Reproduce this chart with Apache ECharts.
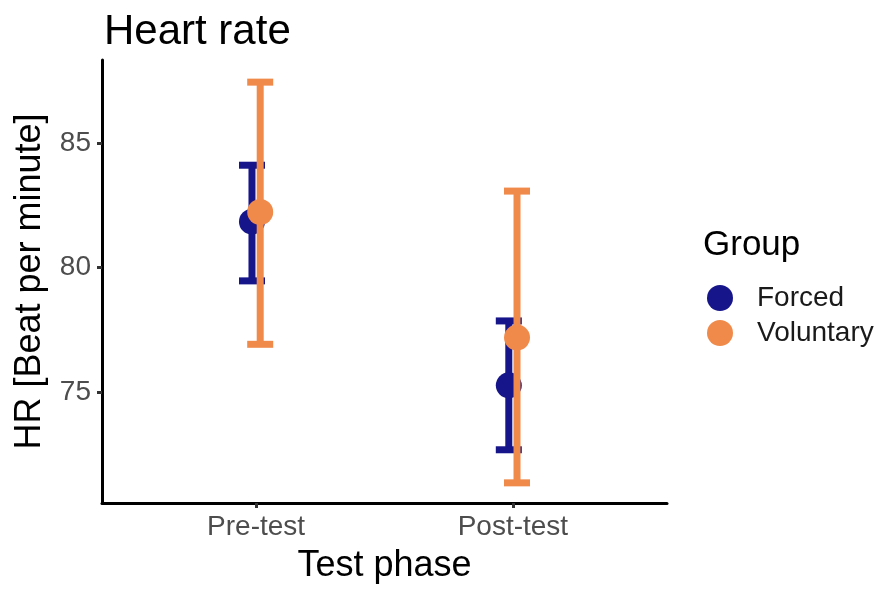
<!DOCTYPE html>
<html>
<head>
<meta charset="utf-8">
<title>Heart rate</title>
<script src="https://cdn.jsdelivr.net/npm/echarts@6/dist/echarts.min.js"></script>
<style>
  html, body { margin: 0; padding: 0; background: #ffffff; }
  #chart { width: 880px; height: 589px; }
</style>
</head>
<body>
<div id="chart"></div>
<script>
// Test phases on the x axis
const phases = ['Pre-test', 'Post-test'];
// Group names (legend order)
const groups = ['Forced', 'Voluntary'];
// Mean heart rate and error bar limits per phase
const forcedMean = [81.85, 75.27];
const forcedLow = [79.47, 72.68];
const forcedHigh = [84.12, 77.86];
const voluntaryMean = [82.24, 77.19];
const voluntaryLow = [76.92, 71.35];
const voluntaryHigh = [87.46, 83.08];
// Y axis tick values
const yTicks = [75, 80, 85];

const FONT = '"Liberation Sans", Arial, Helvetica, sans-serif';
const COLORS = { Forced: '#16158a', Voluntary: '#f08a4b' };
const DODGE = 0.016;   // horizontal offset of the two groups within a phase
const CAP = 13;        // half width of error bar caps (px)
const LINE_W = 7;
const DOT_R = 13;

function buildData(mean, low, high, offset) {
  return phases.map((p, i) => [i + 1 + offset, mean[i], low[i], high[i]]);
}

function errorBarSeries(name, mean, low, high, offset) {
  const color = COLORS[name];
  return {
    name: name,
    type: 'custom',
    clip: false,
    itemStyle: { color: color },
    encode: { x: 0, y: 1 },
    data: buildData(mean, low, high, offset),
    renderItem: function (params, api) {
      const x = api.value(0);
      const pMean = api.coord([x, api.value(1)]);
      const pLo = api.coord([x, api.value(2)]);
      const pHi = api.coord([x, api.value(3)]);
      const st = { stroke: color, lineWidth: LINE_W, fill: null, lineCap: 'butt' };
      return {
        type: 'group',
        children: [
          { type: 'line', shape: { x1: pLo[0], y1: pLo[1], x2: pHi[0], y2: pHi[1] }, style: st },
          { type: 'line', shape: { x1: pLo[0] - CAP, y1: pLo[1], x2: pLo[0] + CAP, y2: pLo[1] }, style: st },
          { type: 'line', shape: { x1: pHi[0] - CAP, y1: pHi[1], x2: pHi[0] + CAP, y2: pHi[1] }, style: st },
          { type: 'circle', shape: { cx: pMean[0], cy: pMean[1], r: DOT_R }, style: { fill: color } }
        ]
      };
    }
  };
}

const chart = echarts.init(document.getElementById('chart'), null, { renderer: 'canvas' });

chart.setOption({
  backgroundColor: '#ffffff',
  animation: false,
  textStyle: { fontFamily: FONT },
  title: {
    text: 'Heart rate',
    left: 99,
    top: 6,
    textStyle: { fontFamily: FONT, fontSize: 42, fontWeight: 'normal', color: '#000000' }
  },
  grid: { left: 102, right: 213, top: 60, bottom: 82, containLabel: false },
  legend: {
    data: groups.map(g => ({ name: g, icon: 'circle' })),
    orient: 'vertical',
    left: 702,
    top: 279,
    itemWidth: 64,
    itemHeight: 26,
    itemGap: 7,
    selectedMode: false,
    textStyle: { fontFamily: FONT, fontSize: 28, color: '#1a1a1a' }
  },
  graphic: [{
    type: 'text',
    left: 703,
    top: 228,
    style: { text: 'Group', fontFamily: FONT, fontSize: 35, fill: '#000000' }
  }],
  xAxis: {
    type: 'value',
    min: 0.4,
    max: 2.6,
    name: 'Test phase',
    nameLocation: 'middle',
    nameGap: 45,
    nameTextStyle: { fontFamily: FONT, fontSize: 36, color: '#000000' },
    axisLine: { show: true, lineStyle: { color: '#000000', width: 3 } },
    axisTick: { show: true, customValues: [1, 2], length: 5, lineStyle: { color: '#333333', width: 3 } },
    axisLabel: {
      customValues: [1, 2],
      margin: 10,
      fontFamily: FONT,
      fontSize: 28,
      color: '#4d4d4d',
      formatter: v => phases[Math.round(v) - 1] || ''
    },
    splitLine: { show: false }
  },
  yAxis: {
    type: 'value',
    min: 70.54,
    max: 88.35,
    name: 'HR [Beat per minute]',
    nameLocation: 'middle',
    nameGap: 54,
    nameTextStyle: { fontFamily: FONT, fontSize: 36, color: '#000000' },
    axisLine: { show: true, lineStyle: { color: '#000000', width: 3 } },
    axisTick: { show: true, customValues: yTicks, length: 5, lineStyle: { color: '#333333', width: 3 } },
    axisLabel: {
      customValues: yTicks,
      margin: 11,
      fontFamily: FONT,
      fontSize: 28,
      color: '#4d4d4d'
    },
    splitLine: { show: false }
  },
  series: [
    errorBarSeries('Forced', forcedMean, forcedLow, forcedHigh, -DODGE),
    errorBarSeries('Voluntary', voluntaryMean, voluntaryLow, voluntaryHigh, DODGE)
  ]
});
</script>
</body>
</html>
